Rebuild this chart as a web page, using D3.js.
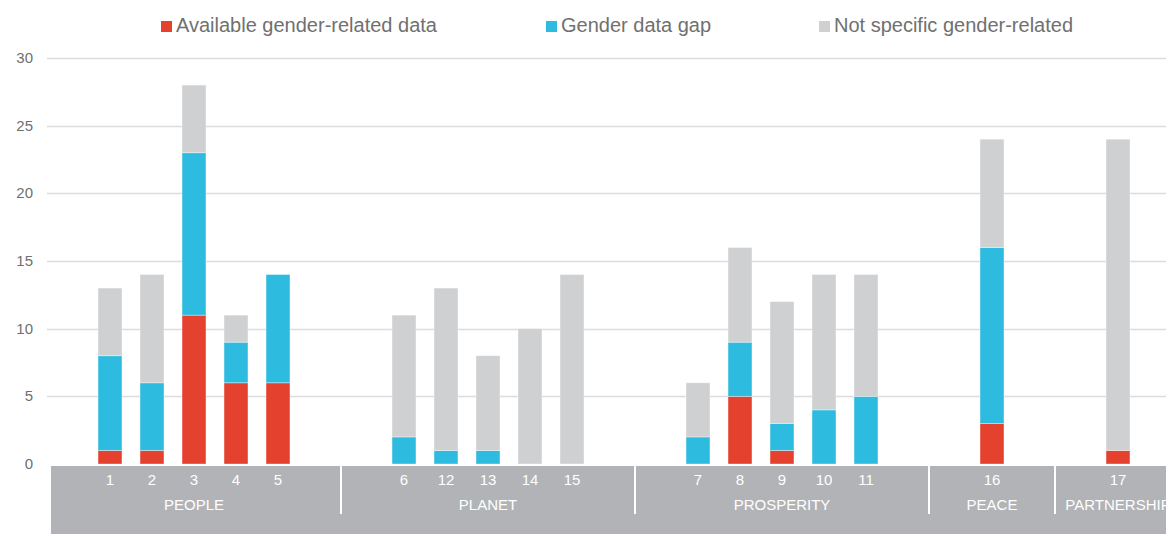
<!DOCTYPE html>
<html>
<head>
<meta charset="utf-8">
<script src="https://cdn.jsdelivr.net/npm/d3@7"></script>
<style>
  body { margin: 0; background: #fff; font-family: "Liberation Sans", Arial, sans-serif; }
</style>
</head>
<body>
<div id="chart"></div>
<script>
// goals in display order, with the pillar they belong to
const goals = ["1", "2", "3", "4", "5", "6", "12", "13", "14", "15", "7", "8", "9", "10", "11", "16", "17"];
const pillars = ["PEOPLE", "PEOPLE", "PEOPLE", "PEOPLE", "PEOPLE",
  "PLANET", "PLANET", "PLANET", "PLANET", "PLANET",
  "PROSPERITY", "PROSPERITY", "PROSPERITY", "PROSPERITY", "PROSPERITY",
  "PEACE", "PARTNERSHIP"];
const pillarNames = ["PEOPLE", "PLANET", "PROSPERITY", "PEACE", "PARTNERSHIP"];

const available = [1, 1, 11, 6, 6, 0, 0, 0, 0, 0, 0, 5, 1, 0, 0, 3, 1];
const gap = [7, 5, 12, 3, 8, 2, 1, 1, 0, 0, 2, 4, 2, 4, 5, 13, 0];
const notSpecific = [5, 8, 5, 2, 0, 9, 12, 7, 10, 14, 4, 7, 9, 10, 9, 8, 23];

const seriesNames = ["Available gender-related data", "Gender data gap", "Not specific gender-related"];
const colors = ["#e5412f", "#2ebbe0", "#cfd0d2"];
const yTicks = [0, 5, 10, 15, 20, 25, 30];

const W = 1166, H = 534;
const svg = d3.select("#chart").append("svg").attr("width", W).attr("height", H);

// slots: each pillar is followed by two empty slots
const slots = [];
pillarNames.forEach((p, i) => {
  if (i === 0) slots.push("pad0");
  goals.forEach((g, j) => { if (pillars[j] === p) slots.push(g); });
  slots.push("gapA" + i, "gapB" + i);
});

const x = d3.scaleBand().domain(slots).range([47, 47 + slots.length * 42]).paddingInner(0.43).paddingOuter(0.215);
const y = d3.scaleLinear().domain([0, 30]).range([464, 58]);

// gridlines
svg.append("g")
  .selectAll("line")
  .data(yTicks.slice(1))
  .join("line")
  .attr("x1", 47).attr("x2", W)
  .attr("y1", d => Math.round(y(d)) + 0.5).attr("y2", d => Math.round(y(d)) + 0.5)
  .attr("stroke", "#dcdcdc").attr("stroke-width", 1.3);

svg.append("g")
  .selectAll("text")
  .data(yTicks)
  .join("text")
  .attr("x", 33)
  .attr("y", d => y(d) + 5)
  .attr("text-anchor", "end")
  .attr("font-size", 15)
  .attr("fill", "#6f6f6f")
  .text(d => d);

// stacked bars
const table = goals.map((g, i) => ({ goal: g, a: available[i], b: gap[i], c: notSpecific[i] }));
const stack = d3.stack().keys(["a", "b", "c"])(table);

svg.append("g")
  .selectAll("g")
  .data(stack)
  .join("g")
  .attr("fill", (d, i) => colors[i])
  .selectAll("rect")
  .data(d => d.filter(s => s[1] > s[0]))
  .join("rect")
  .attr("x", d => x(d.data.goal))
  .attr("width", x.bandwidth())
  .attr("y", d => y(d[1]))
  .attr("height", d => y(d[0]) - y(d[1]))
  .attr("stroke", "rgba(255,255,255,0.45)")
  .attr("stroke-width", 0.8);

// gray category band
const bandTop = 466;
svg.append("rect")
  .attr("x", 51).attr("y", bandTop)
  .attr("width", W - 51).attr("height", H - bandTop)
  .attr("fill", "#b2b3b6");

svg.append("g")
  .selectAll("text")
  .data(goals)
  .join("text")
  .attr("x", d => x(d) + x.bandwidth() / 2)
  .attr("y", 485)
  .attr("text-anchor", "middle")
  .attr("font-size", 15)
  .attr("fill", "#ffffff")
  .text(d => d);

const step = x.step();
pillarNames.forEach((p, i) => {
  const members = goals.filter((g, j) => pillars[j] === p);
  const first = x(members[0]) + x.bandwidth() / 2;
  const last = x(members[members.length - 1]) + x.bandwidth() / 2;
  svg.append("text")
    .attr("x", (first + last) / 2)
    .attr("y", 510)
    .attr("text-anchor", "middle")
    .attr("font-size", 15)
    .attr("fill", "#ffffff")
    .text(p);
  if (i < pillarNames.length - 1) {
    const sep = last + step * 1.5;
    svg.append("line")
      .attr("x1", sep).attr("x2", sep)
      .attr("y1", bandTop).attr("y2", 514)
      .attr("stroke", "#ffffff").attr("stroke-width", 2);
  }
});

// legend
const legendX = [161, 546, 819];
const legend = svg.append("g")
  .selectAll("g")
  .data(seriesNames)
  .join("g")
  .attr("transform", (d, i) => `translate(${legendX[i]},20)`);
legend.append("rect").attr("width", 11).attr("height", 11).attr("y", 1).attr("fill", (d, i) => colors[i]);
legend.append("text")
  .attr("x", 15).attr("y", 12)
  .attr("font-size", 20)
  .attr("fill", "#707070")
  .text(d => d);
</script>
</body>
</html>
